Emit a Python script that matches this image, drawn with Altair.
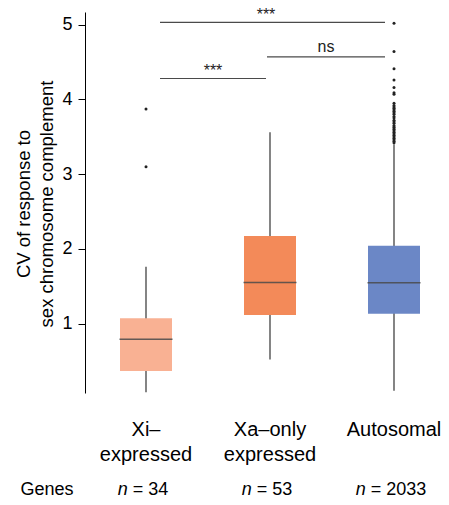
import altair as alt
import pandas as pd

# ---- data ----
categories = ["Xi–\nexpressed", "Xa–only\nexpressed", "Autosomal"]
box_colors = ["#F9B193", "#F38A59", "#6B87C6"]
lower_whisker = [0.08, 0.52, 0.10]
q1 = [0.365, 1.115, 1.13]
median = [0.79, 1.55, 1.545]
q3 = [1.07, 2.17, 2.04]
upper_whisker = [1.76, 3.56, 3.40]
n_genes = ["34", "53", "2033"]

xi_outliers = [3.87, 3.10]
auto_outliers = [5.02, 4.64, 4.41, 4.26, 4.16, 4.09, 4.07, 3.95, 3.92, 3.90, 3.88,
                 3.86, 3.84, 3.82, 3.80, 3.77, 3.75, 3.72, 3.70, 3.68, 3.65, 3.63,
                 3.62, 3.60, 3.58, 3.56, 3.54, 3.52, 3.50, 3.48, 3.46, 3.44, 3.42]

# significance brackets
bracket_from = ["Xi–\nexpressed", "Xa–only\nexpressed", "Xi–\nexpressed"]
bracket_to = ["Autosomal", "Autosomal", "Xa–only\nexpressed"]
bracket_y = [5.03, 4.57, 4.28]
bracket_labels = ["***", "ns", "***"]

y_title = ["CV of response to", "sex chromosome complement"]

FONT = "Liberation Sans"
NFS = 18  # font size of the gene-count row

boxes = pd.DataFrame({
    "cat": categories, "lo": lower_whisker, "q1": q1, "med": median,
    "q3": q3, "hi": upper_whisker, "color": box_colors, "n": n_genes,
})
outliers = pd.DataFrame({
    "cat": [categories[0]] * len(xi_outliers) + [categories[2]] * len(auto_outliers),
    "v": xi_outliers + auto_outliers,
})

xscale = alt.Scale(domain=categories, range=[-1, 371], paddingInner=0, paddingOuter=0)
yscale = alt.Scale(domain=[0.07, 5.17], nice=False, zero=False)

X = alt.X("cat:N", scale=xscale, axis=None, sort=categories)
yaxis = alt.Axis(values=[1, 2, 3, 4, 5], grid=False, tickSize=7, tickColor="black",
                 domainColor="black", labelFontSize=18, labelColor="black",
                 labelFont=FONT, labelPadding=6, title=None)

base = alt.Chart(boxes)

whiskers = base.mark_rule(color="#333333", strokeWidth=1.2).encode(
    x=X, y=alt.Y("lo:Q", scale=yscale, axis=yaxis), y2="hi:Q")

box = base.mark_bar(size=52).encode(
    x=X, y=alt.Y("q1:Q", scale=yscale, axis=yaxis), y2="q3:Q",
    color=alt.Color("color:N", scale=None))

med = base.mark_tick(size=53, thickness=1.6, color="#4a4a4a", opacity=0.85).encode(
    x=X, y=alt.Y("med:Q", scale=yscale, axis=yaxis))

pts = alt.Chart(outliers).mark_circle(size=9, color="#222222", opacity=1).encode(
    x=X, y=alt.Y("v:Q", scale=yscale, axis=yaxis))

layers = [whiskers, box, med, pts]

# bracket lines and labels, one layer each
rule_offsets = [(14, -9), (-3, -9), (14, -4)]
text_anchor = ["Xa–only\nexpressed", "Autosomal", "Xi–\nexpressed"]
text_dx = [-4, -68, 67]
text_dy = [-2, -5, -2]
for i in range(3):
    d = pd.DataFrame({"a": [bracket_from[i]], "b": [bracket_to[i]],
                      "y": [bracket_y[i]], "lab": [bracket_labels[i]],
                      "t": [text_anchor[i]]})
    layers.append(alt.Chart(d).mark_rule(color="#4a4a4a", strokeWidth=1.2,
                                         xOffset=rule_offsets[i][0],
                                         x2Offset=rule_offsets[i][1]).encode(
        x=alt.X("a:N", scale=xscale, sort=categories, axis=None), x2="b:N",
        y=alt.Y("y:Q", scale=yscale, axis=yaxis)))
    layers.append(alt.Chart(d).mark_text(font=FONT, fontSize=16, baseline="alphabetic",
                                         dy=text_dy[i], dx=text_dx[i],
                                         color="#222222").encode(
        x=alt.X("t:N", scale=xscale, sort=categories, axis=None),
        y=alt.Y("y:Q", scale=yscale, axis=yaxis), text="lab:N"))

cat_text = base.mark_text(font=FONT, fontSize=20, lineBreak="\n", baseline="alphabetic",
                          lineHeight=25, color="black").encode(
    x=X, y=alt.value(424), text="cat:N")
layers.append(cat_text)

# gene counts: italic "n" + upright "= count", centred as one string per category
for i, cat in enumerate(categories):
    d = pd.DataFrame({"cat": [cat], "rest": ["= " + n_genes[i]]})
    total = NFS * (0.556 + 0.278 + 0.584 + 0.278 + 0.556 * len(n_genes[i]))
    n_right = -total / 2 + 0.556 * NFS - 3
    layers.append(alt.Chart(d).mark_text(
        font=FONT, fontSize=NFS, fontStyle="italic", align="right",
        baseline="alphabetic", dx=n_right, color="black").encode(
        x=alt.X("cat:N", scale=xscale, sort=categories, axis=None),
        y=alt.value(483), text=alt.value("n")))
    layers.append(alt.Chart(d).mark_text(
        font=FONT, fontSize=NFS, align="left", baseline="alphabetic",
        dx=n_right + 0.278 * NFS, color="black").encode(
        x=alt.X("cat:N", scale=xscale, sort=categories, axis=None),
        y=alt.value(483), text="rest:N"))

genes = alt.Chart(pd.DataFrame({"g": ["Genes"]})).mark_text(
    font=FONT, fontSize=18, align="center", baseline="alphabetic", color="black").encode(
    x=alt.value(-38), y=alt.value(483), text="g:N")

t1 = alt.Chart(pd.DataFrame({"g": [y_title[0]]})).mark_text(
    font=FONT, fontSize=18.5, angle=270, align="center", baseline="middle",
    color="black").encode(x=alt.value(-61), y=alt.value(192), text="g:N")
t2 = alt.Chart(pd.DataFrame({"g": [y_title[1]]})).mark_text(
    font=FONT, fontSize=18.5, angle=270, align="center", baseline="middle",
    color="black").encode(x=alt.value(-38), y=alt.value(192), text="g:N")

layers += [genes, t1, t2]

chart = alt.layer(*layers).properties(
    width=356, height=381,
    autosize=alt.AutoSizeParams(type="none"),
    padding={"left": 77, "top": 4, "right": 0, "bottom": 104},
).configure_view(strokeWidth=0)

chart.save("out.html", embed_options={"renderer": "svg", "actions": False})
